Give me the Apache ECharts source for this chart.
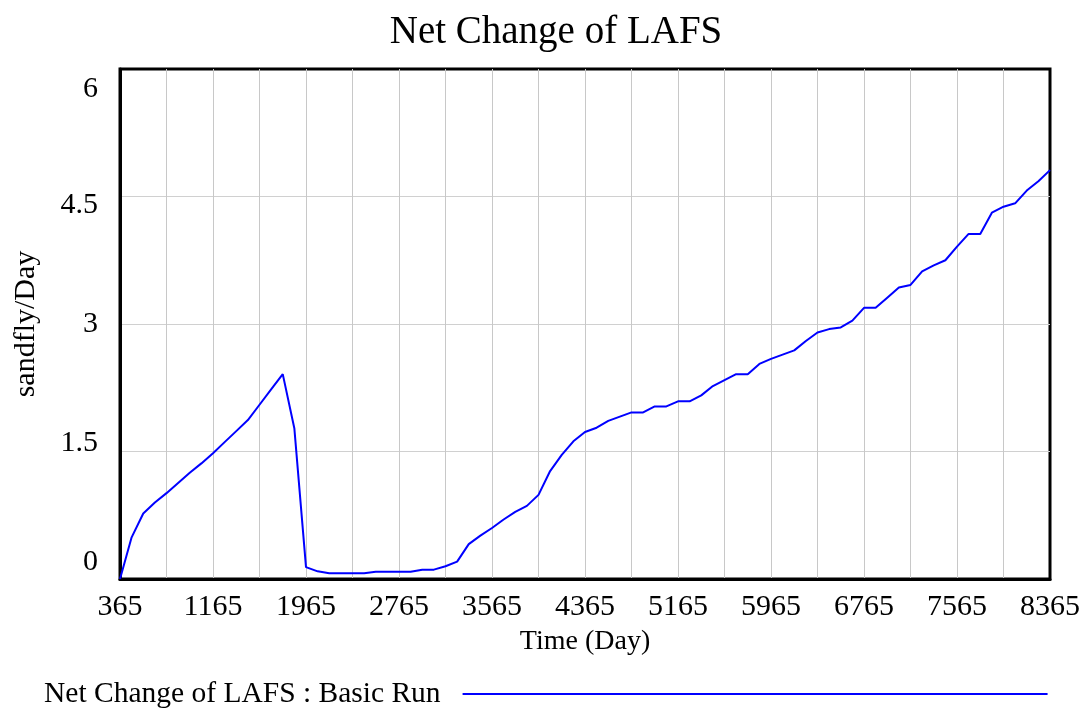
<!DOCTYPE html>
<html>
<head>
<meta charset="utf-8">
<script src="https://cdn.jsdelivr.net/npm/echarts@6/dist/echarts.min.js"></script>
<style>
html, body { margin: 0; padding: 0; background: #fff; }
#chart { width: 1088px; height: 711px; }
</style>
</head>
<body>
<div id="chart"></div>
<script>
// Vensim run "Basic Run", saved every 100 days
var days = [365, 465, 565, 665, 765, 865, 965, 1065, 1165, 1265,
    1365, 1465, 1565, 1665, 1765, 1865, 1965, 2065, 2165, 2265,
    2365, 2465, 2565, 2665, 2765, 2865, 2965, 3065, 3165, 3265,
    3365, 3465, 3565, 3665, 3765, 3865, 3965, 4065, 4165, 4265,
    4365, 4465, 4565, 4665, 4765, 4865, 4965, 5065, 5165, 5265,
    5365, 5465, 5565, 5665, 5765, 5865, 5965, 6065, 6165, 6265,
    6365, 6465, 6565, 6665, 6765, 6865, 6965, 7065, 7165, 7265,
    7365, 7465, 7565, 7665, 7765, 7865, 7965, 8065, 8165, 8265,
    8365];
var netChangeLAFS = [0, 0.49, 0.77, 0.90, 1.01, 1.13, 1.25, 1.36, 1.48, 1.61,
    1.74, 1.87, 2.05, 2.23, 2.41, 1.77, 0.14, 0.09, 0.068, 0.068,
    0.068, 0.068, 0.085, 0.085, 0.085, 0.085, 0.11, 0.11, 0.15, 0.205,
    0.41, 0.51, 0.60, 0.70, 0.79, 0.86, 0.99, 1.27, 1.46, 1.62,
    1.73, 1.78, 1.86, 1.91, 1.96, 1.96, 2.03, 2.03, 2.09, 2.09,
    2.16, 2.27, 2.34, 2.41, 2.41, 2.53, 2.59, 2.64, 2.69, 2.80,
    2.90, 2.94, 2.96, 3.04, 3.19, 3.19, 3.31, 3.43, 3.46, 3.62,
    3.69, 3.75, 3.91, 4.06, 4.06, 4.31, 4.38, 4.42, 4.57, 4.68,
    4.81];
var xTickLabels = [365, 1165, 1965, 2765, 3565, 4365, 5165, 5965, 6765, 7565, 8365];
var yTickLabels = [0, 1.5, 3, 4.5, 6];

var startDay = days[0];
var FONT = 'Liberation Serif';

// vensim pushes the y labels inward near the frame edges
var yLabelShift = [-17, -8, 0, 9, 20];
var yRich = {};
for (var i = 0; i < yTickLabels.length; i++) {
    var s = yLabelShift[i];
    yRich['y' + i] = {
        fontFamily: FONT,
        fontSize: 30,
        color: '#000',
        padding: s > 0 ? [2 * s, 0, 0, 0] : [0, 0, -2 * s, 0]
    };
}

var seriesData = [];
for (var i = 0; i < days.length; i++) {
    seriesData.push([days[i] - startDay, netChangeLAFS[i]]);
}

var chart = echarts.init(document.getElementById('chart'), null, {renderer: 'canvas'});
chart.setOption({
    backgroundColor: '#fff',
    animation: false,
    title: {
        text: 'Net Change of LAFS',
        left: 551,
        top: 8,
        textAlign: 'center',
        textStyle: {fontFamily: FONT, fontSize: 39, fontWeight: 'normal', color: '#000'}
    },
    legend: {
        data: ['Net Change of LAFS : Basic Run'],
        left: 39,
        top: 674,
        align: 'right',
        icon: 'rect',
        itemWidth: 585,
        itemHeight: 2,
        textStyle: {fontFamily: FONT, fontSize: 29.5, color: '#000', padding: [0, 17, 0, 0]}
    },
    grid: {
        left: 120, right: 38, top: 69, bottom: 132,
        show: true, borderColor: '#000', borderWidth: 3,
        containLabel: false
    },
    xAxis: {
        type: 'value',
        min: 0,
        max: 8000,
        interval: 400,
        name: 'Time (Day)',
        nameLocation: 'middle',
        nameGap: 49,
        nameTextStyle: {fontFamily: FONT, fontSize: 28, color: '#000'},
        axisLine: {show: true, lineStyle: {color: '#000', width: 3}},
        axisTick: {show: false},
        axisLabel: {
            margin: 13,
            fontFamily: FONT, fontSize: 30, color: '#000',
            formatter: function(v) {
                var d = v + startDay;
                return xTickLabels.indexOf(d) >= 0 ? String(d) : '';
            }
        },
        splitLine: {
            show: true, showMinLine: false, showMaxLine: false,
            lineStyle: {color: '#c8c8c8', width: 1}
        }
    },
    yAxis: {
        type: 'value',
        min: 0,
        max: 6,
        interval: 1.5,
        name: 'sandfly/Day',
        nameLocation: 'middle',
        nameGap: 79,
        nameRotate: 90,
        nameTextStyle: {fontFamily: FONT, fontSize: 30, color: '#000'},
        axisLine: {show: true, lineStyle: {color: '#000', width: 3}},
        axisTick: {show: false},
        axisLabel: {
            margin: 22,
            fontFamily: FONT, fontSize: 30, color: '#000',
            formatter: function(v) {
                var idx = yTickLabels.indexOf(v);
                if (idx < 0) return '';
                return '{y' + idx + '|' + v + '}';
            },
            rich: yRich
        },
        splitLine: {
            show: true, showMinLine: false, showMaxLine: false,
            lineStyle: {color: '#d0d0d0', width: 1}
        }
    },
    series: [{
        name: 'Net Change of LAFS : Basic Run',
        type: 'line',
        data: seriesData,
        showSymbol: false,
        symbol: 'none',
        color: '#0000ff',
        lineStyle: {color: '#0000ff', width: 2}
    }]
});
</script>
</body>
</html>
